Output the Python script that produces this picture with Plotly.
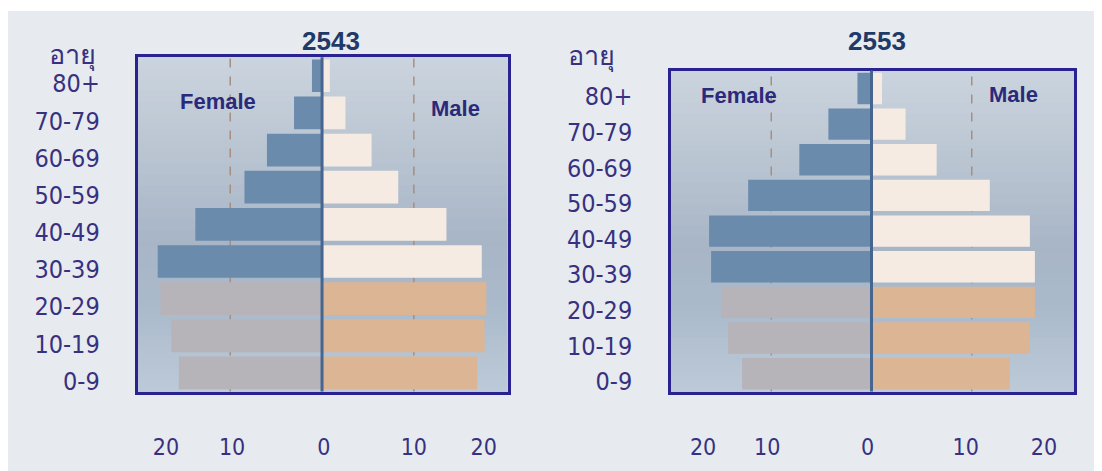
import plotly.graph_objects as go

# ---------------- data ----------------
age_groups = ["0-9", "10-19", "20-29", "30-39", "40-49", "50-59", "60-69", "70-79", "80+"]
female_2543 = [15.6, 16.4, 17.6, 17.9, 13.8, 8.45, 6.0, 3.05, 1.1]
male_2543 = [16.9, 17.7, 17.9, 17.4, 13.55, 8.3, 5.4, 2.55, 0.85]
female_2553 = [12.9, 14.3, 15.0, 16.0, 16.2, 12.3, 7.2, 4.3, 1.4]
male_2553 = [13.8, 15.8, 16.3, 16.3, 15.8, 11.8, 6.5, 3.4, 1.05]
years = ["2543", "2553"]
x_tick_text = ["20", "10", "0", "10", "20"]
age_label = "อายุ"
female_label = "Female"
male_label = "Male"

# ---------------- styling ----------------
OFF = 8  # page body margin
W, H = 1102 - OFF, 471 - OFF
def px(x): return (x - OFF) / W
def py(y): return 1 - (y - OFF) / H

FEM_UP, FEM_LO = "#6b8bad", "#b6b3b9"
MAL_UP, MAL_LO = "#f5ebe3", "#dbb594"
fem_colors = [FEM_LO] * 3 + [FEM_UP] * 6
mal_colors = [MAL_LO] * 3 + [MAL_UP] * 6
BORDER = "#2a2290"
TXT = "#37317f"
LABEL_FONT = "DejaVu Sans Condensed, Liberation Sans, sans-serif"

panels = [
    dict(female=female_2543, male=male_2543, title=years[0],
         xdom=[px(137.5), px(507.5)], ydom=[py(395.7), py(57.7)],
         xrange=[-20.1, 20.2], tickvals=[-17.0, -9.8, 0.2, 10.0, 17.6],
         title_xy=(331, 41), age_xy=(98, 54), fem_xy=(218, 103), mal_xy=(455, 110),
         standoff=30),
    dict(female=female_2553, male=male_2553, title=years[1],
         xdom=[px(671), px(1074)], ydom=[py(395.7), py(71.3)],
         xrange=[-20.0, 20.2], tickvals=[-16.8, -10.4, -0.4, 9.4, 17.2],
         title_xy=(877, 41), age_xy=(617, 55), fem_xy=(739, 96), mal_xy=(1013, 95),
         standoff=31),
]

def hex2rgb(h):
    h = h.lstrip("#")
    return [int(h[i:i + 2], 16) for i in (0, 2, 4)]

grad_stops = [(0.0, "#cbd4de"), (0.3, "#b9c4d1"), (0.55, "#a7b5c6"), (0.75, "#abbacb"), (1.0, "#bdcad8")]
def grad_color(t):
    for (t0, c0), (t1, c1) in zip(grad_stops[:-1], grad_stops[1:]):
        if t0 <= t <= t1:
            f = (t - t0) / (t1 - t0)
            a, b = hex2rgb(c0), hex2rgb(c1)
            return "rgb(%d,%d,%d)" % tuple(round(a[i] + (b[i] - a[i]) * f) for i in range(3))
    return grad_stops[-1][1]

fig = go.Figure()
shapes = []
annotations = []

# thin white band at the top of the page
shapes.append(dict(type="rect", xref="paper", yref="paper", x0=0, x1=1, y0=py(11), y1=1,
                   fillcolor="white", line=dict(width=0), layer="below"))

N = 60
for i, p in enumerate(panels):
    sfx = "" if i == 0 else str(i + 1)
    xa, ya = "x" + sfx, "y" + sfx
    fig.add_trace(go.Bar(y=age_groups, x=[-v for v in p["female"]], orientation="h",
                         marker=dict(color=fem_colors, line=dict(width=0)),
                         xaxis=xa, yaxis=ya, showlegend=False, hoverinfo="skip"))
    fig.add_trace(go.Bar(y=age_groups, x=p["male"], orientation="h",
                         marker=dict(color=mal_colors, line=dict(width=0)),
                         xaxis=xa, yaxis=ya, showlegend=False, hoverinfo="skip"))

    axis_x = dict(domain=p["xdom"], range=p["xrange"], anchor=ya,
                  tickmode="array", tickvals=p["tickvals"], ticktext=x_tick_text,
                  tickfont=dict(family=LABEL_FONT, size=23, color=TXT),
                  ticks="", ticklabelstandoff=33, showgrid=False, zeroline=False,
                  showline=True, mirror=True, linecolor=BORDER, linewidth=2.5, fixedrange=True)
    axis_y = dict(domain=p["ydom"], range=[-0.5, 8.5], anchor=xa, type="category",
                  categoryorder="array", categoryarray=age_groups,
                  tickfont=dict(family=LABEL_FONT, size=25, color=TXT),
                  ticks="", ticklabelstandoff=p["standoff"], ticklabelshift=8,
                  showgrid=False, zeroline=False,
                  showline=True, mirror=True, linecolor=BORDER, linewidth=2.5, fixedrange=True)
    fig.layout["xaxis" + sfx] = axis_x
    fig.layout["yaxis" + sfx] = axis_y

    xdref = xa + " domain"
    ydref = ya + " domain"
    for k in range(N):
        t0, t1 = k / N, (k + 1) / N
        shapes.append(dict(type="rect", xref=xdref, yref=ydref, x0=0, x1=1,
                           y0=1 - t1 - 0.002, y1=1 - t0,
                           fillcolor=grad_color((t0 + t1) / 2), line=dict(width=0), layer="below"))
    for xv in (-10, 10):
        shapes.append(dict(type="line", xref=xa, yref=ydref, x0=xv, x1=xv, y0=0, y1=1,
                           line=dict(color="#a68f80", width=1.5, dash="dash"), layer="below"))
    shapes.append(dict(type="line", xref=xa, yref=ydref, x0=0, x1=0, y0=0, y1=1,
                       line=dict(color="#46668f", width=3), layer="above"))

    tx, ty = p["title_xy"]
    annotations.append(dict(text="<b>%s</b>" % p["title"], xref="paper", yref="paper",
                            x=px(tx), y=py(ty), xanchor="center", yanchor="middle", showarrow=False,
                            font=dict(family="Liberation Sans", size=26, color="#1f3a68")))
    ax_, ay_ = p["age_xy"]
    annotations.append(dict(text=age_label, xref="paper", yref="paper",
                            x=px(ax_), y=py(ay_), xanchor="right", yanchor="middle", showarrow=False,
                            font=dict(size=27, color=TXT)))
    fx, fy = p["fem_xy"]
    annotations.append(dict(text="<b>%s</b>" % female_label, xref="paper", yref="paper",
                            x=px(fx), y=py(fy), xanchor="center", yanchor="middle", showarrow=False,
                            font=dict(family="Liberation Sans", size=22, color="#2b2a7a")))
    mx, my = p["mal_xy"]
    annotations.append(dict(text="<b>%s</b>" % male_label, xref="paper", yref="paper",
                            x=px(mx), y=py(my), xanchor="center", yanchor="middle", showarrow=False,
                            font=dict(family="Liberation Sans", size=22, color="#2b2a7a")))

fig.update_layout(width=W, height=H, margin=dict(l=0, r=0, t=0, b=0),
                  paper_bgcolor="#e7ebef", plot_bgcolor="#b8c4d1",
                  barmode="overlay", bargap=0.12, showlegend=False, hovermode=False,
                  shapes=shapes, annotations=annotations)

fig.write_html("out.html")
